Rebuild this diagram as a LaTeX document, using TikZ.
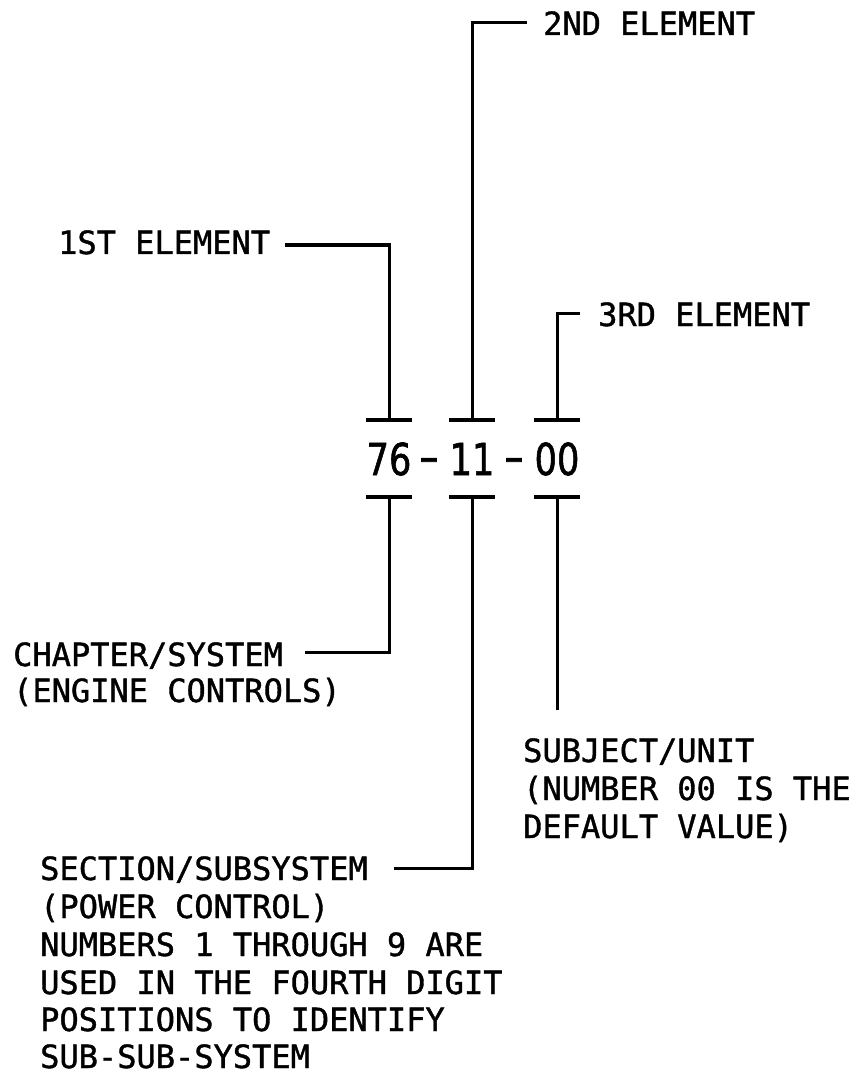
\documentclass[tikz,border=0pt]{standalone}
\usepackage{fontspec}
\newfontfamily\monofam[FakeBold=1.2,AutoFakeBold=1.2]{DejaVu Sans Mono}
\newfontfamily\numfam[FakeBold=1.5,AutoFakeBold=1.5]{DejaVu Sans}
\begin{document}
\begin{tikzpicture}[x=1pt,y=-1pt,
  lbl/.style={font=\monofam\bfseries\fontsize{32}{38}\selectfont, inner sep=0pt, align=left, anchor=base west, text depth=0pt},
  num/.style={font=\numfam\bfseries\fontsize{44}{44}\selectfont, inner sep=0pt, anchor=base},
  wire/.style={line width=3pt},
  tick/.style={line width=3.8pt}]
\useasboundingbox (0,0) rectangle (865,1075);
% number
\node[num] (n1) at (389,475) {\scalebox{0.8}[1]{76}};
\node[num] (d1) at (429,472) {\scalebox{1.3}[1]{-}};
\node[num] (n2) at (472,475) {\scalebox{0.8}[1]{11}};
\node[num] (d2) at (514,472) {\scalebox{1.3}[1]{-}};
\node[num] (n3) at (557,475) {\scalebox{0.8}[1]{00}};
% tick points
\coordinate (t1) at (389,420);
\coordinate (t2) at (472,420);
\coordinate (t3) at (557,420);
\coordinate (b1) at (389,497);
\coordinate (b2) at (472,497);
\coordinate (b3) at (557,497);
\foreach \p in {t1,t2,t3,b1,b2,b3}
  \draw[tick] ([xshift=-23pt]\p) -- ([xshift=23pt]\p);
% labels
\node[lbl] (e1) at (58,254) {1ST ELEMENT};
\node[lbl] (e2) at (543,35) {2ND ELEMENT};
\node[lbl] (e3) at (598,326) {3RD ELEMENT};
\node[lbl] (l1a) at (13,666) {CHAPTER/SYSTEM};
\node[lbl] (l1b) at (13,702) {(ENGINE CONTROLS)};
\node[lbl] (l3a) at (523,762) {SUBJECT/UNIT};
\node[lbl] (l3b) at (523,800) {(NUMBER 00 IS THE};
\node[lbl] (l3c) at (523,838) {DEFAULT VALUE)};
\node[lbl] (l2a) at (40,880) {SECTION/SUBSYSTEM};
\node[lbl] (l2b) at (40,918) {(POWER CONTROL)};
\node[lbl] (l2c) at (40,956) {NUMBERS 1 THROUGH 9 ARE};
\node[lbl] (l2d) at (40,994) {USED IN THE FOURTH DIGIT};
\node[lbl] (l2e) at (40,1031) {POSITIONS TO IDENTIFY};
\node[lbl] (l2f) at (40,1068) {SUB-SUB-SYSTEM};
% corner coordinates
\coordinate (c1) at (285,245);
\coordinate (c2) at (527,23);
\coordinate (c3) at (580,313);
\coordinate (c4) at (305,652);
\coordinate (c5) at (557,710);
\coordinate (c6) at (394,868);
% connectors
\draw[wire] (c1) -| (t1);
\draw[wire] (c2) -| (t2);
\draw[wire] (c3) -| (t3);
\draw[wire] (b1) |- (c4);
\draw[wire] (b3) -- (c5);
\draw[wire] (b2) |- (c6);
\end{tikzpicture}
\end{document}
